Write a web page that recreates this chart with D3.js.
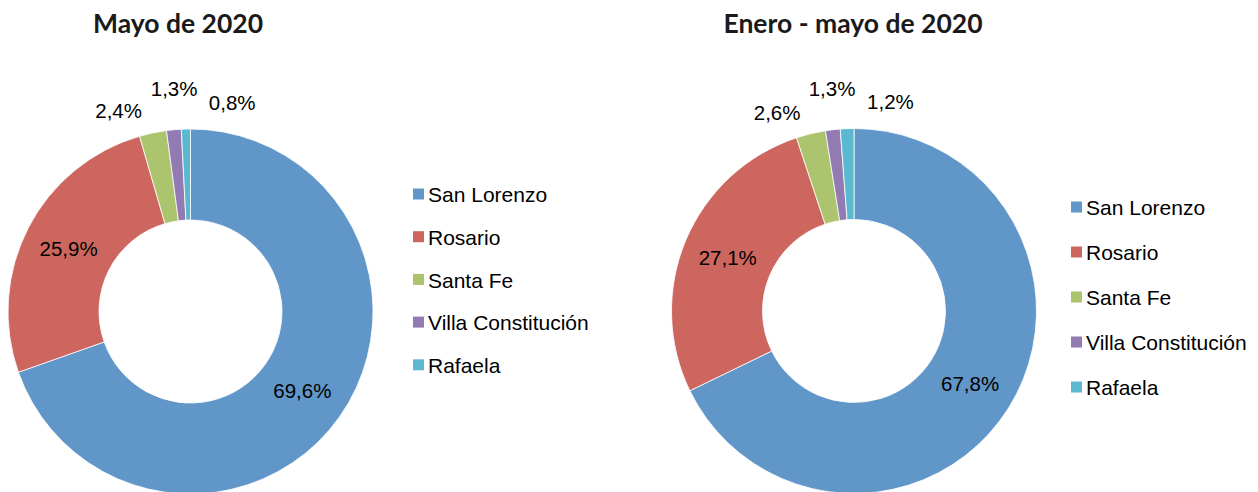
<!DOCTYPE html>
<html>
<head>
    <title>Mayo de 2020 / Enero - mayo de 2020</title>
    <script src="https://d3js.org/d3.v7.min.js"></script>
    <style>
        body {
            margin: 0;
            background: #fff;
        }
        .title {
            font-family: Lato, "Open Sans", sans-serif;
            font-weight: bold;
            font-size: 26.5px;
            fill: #1a1a1a;
        }
        .pct {
            font-family: "Liberation Sans", Arial, sans-serif;
            font-size: 20.5px;
            fill: #000;
        }
        .legend text {
            font-family: "Liberation Sans", Arial, sans-serif;
            font-size: 21px;
            fill: #000;
        }
    </style>
</head>
<body>
    <div id="chart"></div>

    <script>
        const categories = ["San Lorenzo", "Rosario", "Santa Fe", "Villa Constitución", "Rafaela"];
        const mayo2020 = [69.6, 25.9, 2.4, 1.3, 0.8];
        const eneroMayo2020 = [67.8, 27.1, 2.6, 1.3, 1.2];
        const colors = ["#6096c8", "#cc665f", "#abc46d", "#927ab3", "#5ab9d0"];

        const width = 1258, height = 492;
        const outerR = 182.5, innerR = 91.5;

        const panels = [
            { title: "Mayo de 2020", values: mayo2020, cx: 190.5, cy: 311.5, titleX: 178,
              legendX: 413, legendY: 194, legendStep: 42.7 },
            { title: "Enero - mayo de 2020", values: eneroMayo2020, cx: 854, cy: 311, titleX: 853,
              legendX: 1071, legendY: 207, legendStep: 45 }
        ];

        const svg = d3.select("#chart")
                      .append("svg")
                      .attr("width", width)
                      .attr("height", height);

        const color = d3.scaleOrdinal().domain(categories).range(colors);
        const fmt = v => d3.format(".1f")(v).replace(".", ",") + "%";

        const pie = d3.pie().sort(null).value(d => d.value);
        const arc = d3.arc().innerRadius(innerR).outerRadius(outerR);

        panels.forEach(p => {
            const rows = categories.map((c, i) => ({ name: c, value: p.values[i] }));
            const slices = pie(rows);

            svg.append("text")
               .attr("class", "title")
               .attr("x", p.titleX)
               .attr("y", 33)
               .attr("text-anchor", "middle")
               .text(p.title);

            const g = svg.append("g")
                         .attr("transform", `translate(${p.cx},${p.cy})`);

            g.selectAll("path")
             .data(slices)
             .enter()
             .append("path")
             .attr("d", arc)
             .attr("fill", d => color(d.data.name))
             .attr("stroke", "#fff")
             .attr("stroke-width", 0.8);

            // big slices get the label inside the ring
            g.selectAll(".pct-in")
             .data(slices.filter(d => d.data.value >= 5))
             .enter()
             .append("text")
             .attr("class", "pct")
             .attr("transform", d => `translate(${arc.centroid(d)})`)
             .attr("text-anchor", "middle")
             .attr("dy", "0.36em")
             .text(d => fmt(d.data.value));

            // small slices: labels outside, spread apart so they don't collide
            const small = slices.filter(d => d.data.value < 5);
            const mid = Math.floor(small.length / 2);
            const midAngle = (small[mid].startAngle + small[mid].endAngle) / 2 + Math.PI / 180;
            const step = 15.5 * Math.PI / 180;

            g.selectAll(".pct-out")
             .data(small)
             .enter()
             .append("text")
             .attr("class", "pct")
             .attr("transform", (d, i) => {
                 const a = midAngle + (i - mid) * step;
                 const r = i === mid ? 223 : 213;
                 return `translate(${r * Math.sin(a)},${-r * Math.cos(a)})`;
             })
             .attr("text-anchor", "middle")
             .attr("dy", "0.36em")
             .text(d => fmt(d.data.value));

            const legend = svg.selectAll(null)
                              .data(categories)
                              .enter()
                              .append("g")
                              .attr("class", "legend")
                              .attr("transform", (d, i) => `translate(${p.legendX},${p.legendY + i * p.legendStep})`);

            legend.append("rect")
                  .attr("x", 0)
                  .attr("y", -5.5)
                  .attr("width", 11)
                  .attr("height", 11)
                  .style("fill", color);

            legend.append("text")
                  .attr("x", 15)
                  .attr("y", 1)
                  .attr("dy", "0.35em")
                  .text(d => d);
        });
    </script>
</body>
</html>
